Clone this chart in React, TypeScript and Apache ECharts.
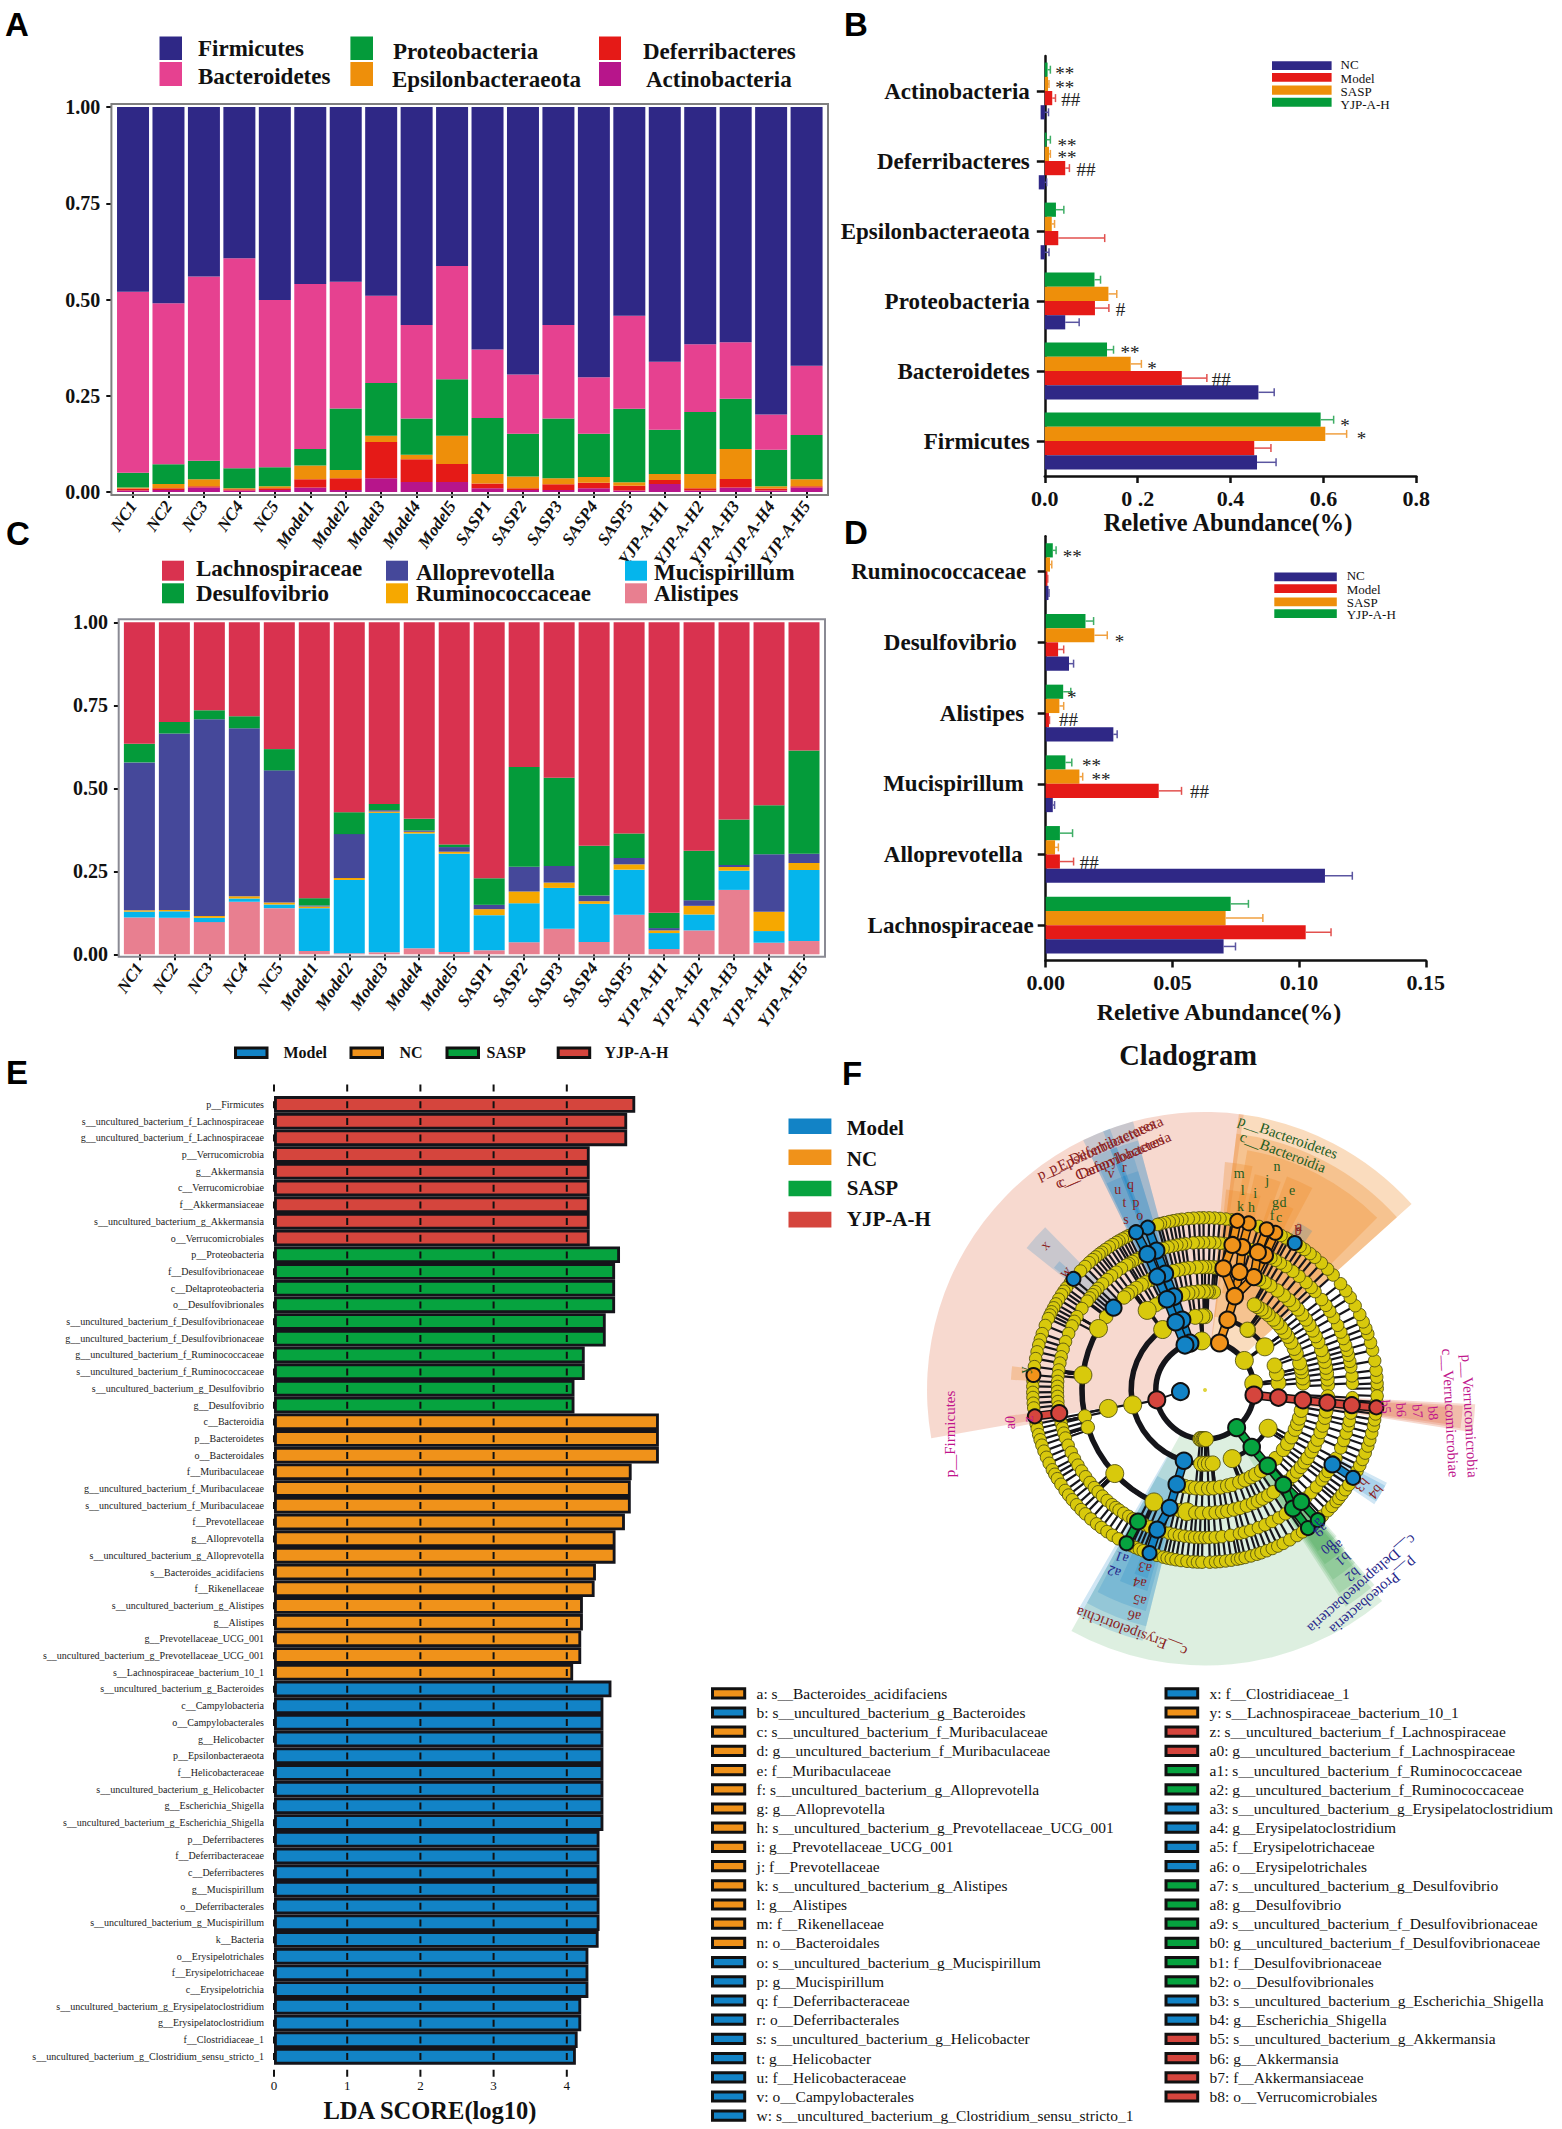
import React, { useEffect, useRef } from "react";
import * as echarts from "echarts";

const SERIF = "'Liberation Serif','Times New Roman',serif";
const SANS = "'Liberation Sans',Arial,sans-serif";
const NAVY = "#2f2886", RED = "#e51a17", ORANGE = "#ee8f0a", GREEN = "#049b3a";
const L_BLUE = "#1283c6", L_ORANGE = "#f0921a", L_GREEN = "#06a33f", L_RED = "#d5453d";

// ---------- Panel A / C ----------
const samples = ["NC1","NC2","NC3","NC4","NC5","Model1","Model2","Model3","Model4","Model5","SASP1","SASP2","SASP3","SASP4","SASP5","YJP-A-H1","YJP-A-H2","YJP-A-H3","YJP-A-H4","YJP-A-H5"];
const aActino = [.004,.005,.012,.004,.005,.012,.005,.036,.026,.026,.010,.005,.005,.010,.004,.021,.004,.012,.004,.012];
const aDeferri = [.005,.005,.003,.003,.005,.021,.031,.094,.059,.047,.012,.005,.015,.014,.012,.010,.006,.022,.005,.003];
const aEpsilon = [.003,.011,.018,.003,.005,.036,.021,.016,.012,.073,.025,.030,.016,.015,.009,.016,.037,.078,.006,.018];
const aProteo = [.038,.051,.048,.052,.049,.043,.160,.137,.094,.147,.145,.111,.155,.112,.191,.115,.161,.130,.095,.115];
const aBacter = [.470,.418,.479,.545,.435,.428,.329,.227,.243,.294,.178,.154,.243,.147,.242,.176,.176,.147,.091,.180];
const aFirmi = [.480,.510,.440,.393,.501,.460,.454,.490,.566,.413,.630,.695,.566,.702,.542,.662,.616,.611,.799,.672];

const cAlistipes = [.111,.110,.097,.158,.139,.010,.003,.006,.018,.007,.012,.036,.077,.037,.119,.016,.072,.194,.035,.040];
const cMucis = [.0175,.0195,.013,.010,.011,.129,.221,.420,.346,.296,.106,.118,.123,.115,.136,.048,.048,.058,.035,.214];
const cRumino = [.004,.004,.0055,.007,.006,.005,.006,.004,.005,.006,.018,.035,.016,.008,.016,.008,.026,.011,.058,.021];
const cAllo = [.4455,.5315,.5925,.506,.398,.003,.132,.004,.004,.014,.013,.075,.05,.017,.019,.007,.017,.006,.173,.028];
const cDesulf = [.056,.035,.027,.036,.064,.022,.066,.019,.035,.008,.08,.30,.266,.15,.074,.046,.149,.137,.148,.311];
const cLachno = [.366,.30,.265,.283,.382,.831,.572,.547,.592,.669,.771,.436,.468,.673,.636,.875,.688,.594,.551,.386];

// ---------- Panel B (Firmicutes ... Actinobacteria) ----------
const bCats = ["Firmicutes","Bacteroidetes","Proteobacteria","Epsilonbacteraeota","Deferribacteres","Actinobacteria"];
const bNC = [.457,.46,.044,-.009,-.013,-.009];
const bNCErr = [.498,.494,.074,.009,.004,.008];
const bModel = [.451,.295,.108,.029,.044,.016];
const bModelErr = [.487,.349,.138,.129,.053,.023];
const bSASP = [.604,.185,.137,.015,.009,.007];
const bSASPErr = [.650,.208,.155,.021,.012,.009];
const bYJP = [.594,.134,.107,.024,.004,.006];
const bYJPErr = [.622,.148,.12,.041,.012,.012];

// ---------- Panel D ----------
const dCats = ["Lachnospiraceae","Alloprevotella","Mucispirillum","Alistipes","Desulfovibrio","Ruminococcaceae"];
const dNC = [.0702,.1102,.0028,.0267,.0092,.0011];
const dNCErr = [.0749,.121,.0035,.0282,.011,.0013];
const dModel = [.1026,.0056,.0446,.0013,.0049,.0007];
const dModelErr = [.1126,.011,.0536,.0015,.0071,.0008];
const dSASP = [.071,.0037,.0133,.0054,.0192,.0017];
const dSASPErr = [.0857,.005,.0146,.0071,.0243,.0024];
const dYJP = [.073,.0056,.0078,.0069,.0157,.0028];
const dYJPErr = [.08,.0106,.0103,.0099,.0189,.0041];

// ---------- Panel E ----------
const yjpTaxa = ["p__Firmicutes","s__uncultured_bacterium_f_Lachnospiraceae","g__uncultured_bacterium_f_Lachnospiraceae","p__Verrucomicrobia","g__Akkermansia","c__Verrucomicrobiae","f__Akkermansiaceae","s__uncultured_bacterium_g_Akkermansia","o__Verrucomicrobiales"];
const yjpScores = [4.935,4.825,4.825,4.313,4.313,4.313,4.313,4.313,4.313];
const saspTaxa = ["p__Proteobacteria","f__Desulfovibrionaceae","c__Deltaproteobacteria","o__Desulfovibrionales","s__uncultured_bacterium_f_Desulfovibrionaceae","g__uncultured_bacterium_f_Desulfovibrionaceae","g__uncultured_bacterium_f_Ruminococcaceae","s__uncultured_bacterium_f_Ruminococcaceae","s__uncultured_bacterium_g_Desulfovibrio","g__Desulfovibrio"];
const saspScores = [4.727,4.66,4.66,4.66,4.532,4.532,4.245,4.245,4.105,4.105];
const ncTaxa = ["c__Bacteroidia","p__Bacteroidetes","o__Bacteroidales","f__Muribaculaceae","g__uncultured_bacterium_f_Muribaculaceae","s__uncultured_bacterium_f_Muribaculaceae","f__Prevotellaceae","g__Alloprevotella","s__uncultured_bacterium_g_Alloprevotella","s__Bacteroides_acidifaciens","f__Rikenellaceae","s__uncultured_bacterium_g_Alistipes","g__Alistipes","g__Prevotellaceae_UCG_001","s__uncultured_bacterium_g_Prevotellaceae_UCG_001","s__Lachnospiraceae_bacterium_10_1"];
const ncScores = [5.258,5.258,5.258,4.886,4.874,4.874,4.794,4.666,4.666,4.398,4.38,4.22,4.22,4.197,4.197,4.087];
const modelTaxa = ["s__uncultured_bacterium_g_Bacteroides","c__Campylobacteria","o__Campylobacterales","g__Helicobacter","p__Epsilonbacteraeota","f__Helicobacteraceae","s__uncultured_bacterium_g_Helicobacter","g__Escherichia_Shigella","s__uncultured_bacterium_g_Escherichia_Shigella","p__Deferribacteres","f__Deferribacteraceae","c__Deferribacteres","g__Mucispirillum","o__Deferribacterales","s__uncultured_bacterium_g_Mucispirillum","k__Bacteria","o__Erysipelotrichales","f__Erysipelotrichaceae","c__Erysipelotrichia","s__uncultured_bacterium_g_Erysipelatoclostridium","g__Erysipelatoclostridium","f__Clostridiaceae_1","s__uncultured_bacterium_g_Clostridium_sensu_stricto_1"];
const modelScores = [4.61,4.5,4.5,4.5,4.5,4.5,4.5,4.5,4.5,4.447,4.447,4.447,4.447,4.447,4.447,4.435,4.295,4.295,4.295,4.197,4.197,4.148,4.124];
const ldaTicks = [0,1,2,3,4];

// ---------- Panel F: angles (degrees, counter-clockwise from east) of the nodes on each ring ----------
const ringS = [.5,2.2,4.3,6.6,9.8,13.4,16,19,21,23.3,26,29.3,32.5,35.2,38.1,41.9,44.6,47.5,50.4,52.4,54.7,56.5,60.8,62,63.8,71.8,81,83,85,86.8,88.6,90.5,92,93.8,95.6,97.7,99.2,100.6,102,103.6,105,106,116.3,117.5,118.7,120,121,122.4,123.8,125.4,126.9,128,129.4,130.8,132.3,134.2,136.3,141.5,143.6,145,146.4,148.2,150,151.5,153,154.2,155.5,158,160.9,163,164.9,167.2,169.5,172.2,177,178.8,180.8,182.5,184.4,186,191.4,193,195,196.8,198.7,200.8,203,205.2,207.6,209.3,211,213.2,215.7,217.6,219.6,221.8,224,226,228.5,231,233,235.3,237.5,239.8,244.8,246.2,247.6,249,253.8,256,257.3,258.7,260.3,262,264,266,267.5,269,271.6,273.5,275,276.9,278.8,280.8,282,283.5,285.5,287.5,289,291,293,295,297,299.5,302.3,304.5,313,315.5,317.5,319.6,321,322.7,324.6,326.6,332,334,336.2,338.5,341,343.1,345.5,348,350,352,356,358];
const ringG = [2.6,5.5,9,11.2,13.6,15.6,17.7,20.4,23.1,26,29.4,32.3,35,37.8,41.8,44,46.8,50.4,53.5,56.8,59.3,61.5,63.5,72,82,84,86.2,88.2,90.6,92.6,94.6,97.6,99.2,101,102.8,104.5,106.5,116.4,118,119.5,121,122,124.5,127,129.3,131.6,134,136.5,138.2,139.8,141.4,143,146.5,150.2,152.3,154.3,157.5,160.9,164,167,169.5,172.2,174.5,176.7,178.6,180.6,182.5,184.5,186.6,191,193,195,197,199,202,205,207.8,210.6,213.3,216,218.8,221.4,223.6,226,228.5,231,232.8,234.4,236.6,238.9,240.8,245,246,248,253.5,256,258,260,262,264.3,266,268,270,271.6,274,276.6,280,283.5,285.5,288,291.2,294,297,300,303,313,315.9,319,322.4,324.5,326.5,332.5,336.9,340,343,346,348,351,357];
const ringF = [2.3,5,7.8,10.5,13.3,16,19,23,26,29,32,35,37.9,41,44,47,50.2,54,58,61,64,84,86,88,90,91.5,94,97.5,100,102.5,105,116.4,119,121,124,126.9,129,131.2,143.5,150,173,192.4,197.6,222.8,245.5,258,261.5,265.5,268.5,272,275,278,280.5,283.6,286.5,289.9,293,295.5,298,301,303.9,312,315.7,318.5,321.3,324,326.5,330,333,336.2,340,343.2,347,350,357];
const ringO = [4,7,10.7,13,16,21.8,25,29.1,33,36,39.6,43,46,50,52.5,55.2,58,60,85,88,89,91,94,97.5,100,103,116.6,120,126,190.8,258,261.6,264.5,268,272,275,279,283.2,286,290.6,294,297.9,301,305,316,322.7,327,331.5,336.4,340,343.4,348];
const ringC = [5.6,13,19.4,35.8,54.3,54.9,90,92,97.6,125,191.6,267,270,273,276,291.6,328.8];
const ringP = [7.7,36.9,93.8,264.5,266,268,269.5,271];
const bigNodes = [[2,7.7],[2,36.9],[2,93.8],[3,35.8],[3,125],[3,191.6],[3,291.6],[3,328.8],[4,126],[4,190.8],[5,150],[5,173],[5,222.8],[5,245.5],[5,261.5]];
const modelNodes = [[1,183.8],[2,107.8],[2,114],[3,108],[3,113.4],[3,253.4],[4,108.4],[4,112.7],[4,253.3],[5,108.9],[5,112.9],[5,138],[5,253.3],[6,109.2],[6,113],[6,251.1],[6,329.7],[7,58.6],[7,109.4],[7,113.6],[7,139.8],[7,251.2],[7,329.3]];
const ncNodes = [[2,72.8],[3,72.2],[4,72.4],[5,66.6],[5,73.7],[5,81.4],[6,66],[6,69],[6,75.4],[6,79.3],[7,65.9],[7,69],[7,75.3],[7,79.2],[7,175]];
const saspNodes = [[2,310],[3,309.3],[4,309.6],[5,309.6],[6,243],[6,306.6],[6,310.7],[7,242.9],[7,306.7],[7,310.9]];
const yjpNodes = [[2,191.5],[2,354.1],[3,354.1],[4,354.1],[5,354.1],[6,189],[6,354.1],[7,188.8],[7,354.2]];
// coloured links: level, angle, level, angle, clade colour index
const cladeLinks = [
  [2,107.8,3,108,0],[3,108,4,108.4,0],[4,108.4,5,108.9,0],[5,108.9,6,109.2,0],[6,109.2,7,109.4,0],
  [2,114,3,113.4,0],[3,113.4,4,112.7,0],[4,112.7,5,112.9,0],[5,112.9,6,113,0],[6,113,7,113.6,0],
  [3,253.4,4,253.3,0],[4,253.3,5,253.3,0],[5,253.3,6,251.1,0],[6,251.1,7,251.2,0],[6,329.7,7,329.3,0],
  [2,72.8,3,72.2,1],[3,72.2,4,72.4,1],[4,72.4,5,73.7,1],[4,72.4,5,66.6,1],[4,72.4,5,81.4,1],[5,66.6,6,66,1],[5,66.6,6,69,1],[5,73.7,6,75.4,1],[5,81.4,6,79.3,1],[6,66,7,65.9,1],[6,69,7,69,1],[6,75.4,7,75.3,1],[6,79.3,7,79.2,1],
  [2,310,3,309.3,2],[3,309.3,4,309.6,2],[4,309.6,5,309.6,2],[5,309.6,6,310.7,2],[5,309.6,6,306.6,2],[6,310.7,7,310.9,2],[6,306.6,7,306.7,2],[6,243,7,242.9,2],
  [2,354.1,3,354.1,3],[3,354.1,4,354.1,3],[4,354.1,5,354.1,3],[5,354.1,6,354.1,3],[6,354.1,7,354.2,3],[6,189,7,188.8,3],
];
// thick arcs: level, from angle, to angle
const thickArcs = [[2,0,180],[2,180,360],[3,125,253],[5,150,245]];
// shaded clades: from angle, to angle, inner level, outer level, clade colour index
const cladeSectors = [
  [82,190,2,11.3,3],[351,357,2,11,3],[351.5,356.5,3,10.5,3],[352,356,4,9.9,3],[187.5,191,6,8.1,3],
  [42,83,2,11.3,1],[42,83,3,10.5,1],[45,80,4,9.9,1],[78,85,5,9.3,1],[70,77,5,9,1],[62,69,5,9.3,1],[74,84,6,8.2,1],[64,71,6,8.2,1],[173,177,7,7.9,1],
  [241,310,2,11.2,2],[303,311,3,10.5,2],[303.5,310.5,4,9.9,2],[304,311,5,9.3,2],[304.5,311.5,6,8.6,2],[305,312,7,8,2],
  [105,111.5,2,11.3,0],[110,116,2,11.3,0],[105,111.5,3,10.5,0],[110,116,3,10.5,0],[107,111,4,9.9,0],[110.5,115.5,4,9.9,0],[107,111,5,9.3,0],[110.5,115.5,5,9.3,0],[134.5,141.5,5,9.27,0],[138.5,141,7,7.9,0],
  [240,256,3,10.5,0],[241,256,4,9.9,0],[242,255,5,9.3,0],[246,254,6,8.5,0],[249,253,7,8,0],[326,333,6,8.3,0],[327,332,7,8.3,0],[56,61,7,7.8,0],
];

const keyLeft = [
  ["a: s__Bacteroides_acidifaciens",1],["b: s__uncultured_bacterium_g_Bacteroides",0],["c: s__uncultured_bacterium_f_Muribaculaceae",1],["d: g__uncultured_bacterium_f_Muribaculaceae",1],["e: f__Muribaculaceae",1],["f: s__uncultured_bacterium_g_Alloprevotella",1],["g: g__Alloprevotella",1],["h: s__uncultured_bacterium_g_Prevotellaceae_UCG_001",1],["i: g__Prevotellaceae_UCG_001",1],["j: f__Prevotellaceae",1],["k: s__uncultured_bacterium_g_Alistipes",1],["l: g__Alistipes",1],["m: f__Rikenellaceae",1],["n: o__Bacteroidales",1],["o: s__uncultured_bacterium_g_Mucispirillum",0],["p: g__Mucispirillum",0],["q: f__Deferribacteraceae",0],["r: o__Deferribacterales",0],["s: s__uncultured_bacterium_g_Helicobacter",0],["t: g__Helicobacter",0],["u: f__Helicobacteraceae",0],["v: o__Campylobacterales",0],["w: s__uncultured_bacterium_g_Clostridium_sensu_stricto_1",0],
];
const keyRight = [
  ["x: f__Clostridiaceae_1",0],["y: s__Lachnospiraceae_bacterium_10_1",1],["z: s__uncultured_bacterium_f_Lachnospiraceae",3],["a0: g__uncultured_bacterium_f_Lachnospiraceae",3],["a1: s__uncultured_bacterium_f_Ruminococcaceae",2],["a2: g__uncultured_bacterium_f_Ruminococcaceae",2],["a3: s__uncultured_bacterium_g_Erysipelatoclostridium",0],["a4: g__Erysipelatoclostridium",0],["a5: f__Erysipelotrichaceae",0],["a6: o__Erysipelotrichales",0],["a7: s__uncultured_bacterium_g_Desulfovibrio",2],["a8: g__Desulfovibrio",2],["a9: s__uncultured_bacterium_f_Desulfovibrionaceae",2],["b0: g__uncultured_bacterium_f_Desulfovibrionaceae",2],["b1: f__Desulfovibrionaceae",2],["b2: o__Desulfovibrionales",2],["b3: s__uncultured_bacterium_g_Escherichia_Shigella",0],["b4: g__Escherichia_Shigella",0],["b5: s__uncultured_bacterium_g_Akkermansia",3],["b6: g__Akkermansia",3],["b7: f__Akkermansiaceae",3],["b8: o__Verrucomicrobiales",3],
];

const cladeColors = [L_BLUE, L_ORANGE, L_GREEN, L_RED];
const sectorFills = ["rgba(18,131,198,.2)","rgba(240,140,40,.3)","rgba(30,150,50,.15)","rgba(223,103,63,.25)"];
const R_PER_LEVEL = 24.6;

function txt(text: string, x: number, y: number, size: number, o: any = {}) {
  const align = o.align || "left";
  return {
    type: "text", x, y, rotation: ((o.rot || 0) * Math.PI) / 180, z: 60, silent: true,
    style: { text, fontFamily: o.family || SERIF, fontSize: size, fontWeight: o.weight || "normal", fill: o.color || "#111",
      textAlign: align, align, textVerticalAlign: "middle", verticalAlign: "middle" },
  };
}
function box(x0: number, y0: number, x1: number, y1: number, fill: string, stroke?: string, lw = 0) {
  return { type: "rect", z: 59, silent: true, shape: { x: x0, y: y0, width: x1 - x0, height: y1 - y0 },
    style: { fill, stroke: stroke || "none", lineWidth: lw } };
}

function angDiff(a: number, b: number) { const d = Math.abs(a - b) % 360; return d > 180 ? 360 - d : d; }

function buildEdges() {
  const rings: number[][] = [[], [], [], [], [], [], [], []];
  [ringP, ringC, ringO, ringF, ringG, ringS].forEach((r, i) => r.forEach((a) => rings[i + 2].push(a)));
  [...modelNodes, ...ncNodes, ...saspNodes, ...yjpNodes].forEach(([l, a]) => rings[l].push(a));
  const rows: number[][] = [];
  for (let l = 3; l <= 7; l++) {
    rings[l].forEach((a) => {
      let p = rings[l - 1][0];
      rings[l - 1].forEach((q) => { if (angDiff(q, a) < angDiff(p, a)) p = q; });
      const span = angDiff(p, a);
      if (span < 3) rows.push([1, l - 1, l, a, 2.2]);
      else { rows.push([1, l - 1, l, p, 2.2]); rows.push([0, l, p, a, span > 10 ? 4.5 : 2.2]); }
    });
  }
  thickArcs.forEach(([l, a, b]) => rows.push([0, l, a, b, 5.5]));
  rows.push([2, 1, 183.8, 2, 191.5]);
  return rows;
}

function stack(name: string, data: number[], color: string, xi: number, yi: number, width: number) {
  return { type: "bar", name, data, stack: "s" + xi, xAxisIndex: xi, yAxisIndex: yi, barWidth: width, itemStyle: { color }, silent: true };
}
function hbar(name: string, data: number[], color: string, idx: number) {
  return { type: "bar", name, data, xAxisIndex: idx, yAxisIndex: idx, barWidth: 14.2, barGap: 0, clip: false, itemStyle: { color }, silent: true };
}
function errBars(idx: number, groups: number[][][]) {
  const colors = ["#5a55a0", "#e2514e", "#f0a040", "#3fae66"];
  const data: number[][] = [];
  groups.forEach(([vals, errs], s) => vals.forEach((v, c) => data.push([v, c, errs[c], s])));
  return {
    type: "custom", xAxisIndex: idx, yAxisIndex: idx, data, z: 3, silent: true, clip: false, encode: { x: 0, y: 1 },
    renderItem: (_: any, api: any) => {
      const s = api.value(3);
      const p0 = api.coord([Math.max(api.value(0), 0), api.value(1)]);
      const p1 = api.coord([api.value(2), api.value(1)]);
      const y = p0[1] + (1.5 - s) * 14.2;
      const style = { stroke: colors[s], lineWidth: 1.5, fill: "none" };
      return { type: "group", children: [
        { type: "line", shape: { x1: p0[0], y1: y, x2: p1[0], y2: y }, style },
        { type: "line", shape: { x1: p1[0], y1: y - 4, x2: p1[0], y2: y + 4 }, style },
      ] };
    },
  };
}

function buildOption() {
  const g: any[] = [];
  // panel letters
  g.push(txt("A", 5, 24, 33, { family: SANS, weight: "bold", color: "#000" }));
  g.push(txt("B", 844, 24, 33, { family: SANS, weight: "bold", color: "#000" }));
  g.push(txt("C", 6, 533, 33, { family: SANS, weight: "bold", color: "#000" }));
  g.push(txt("D", 844, 532, 33, { family: SANS, weight: "bold", color: "#000" }));
  g.push(txt("E", 6, 1072, 33, { family: SANS, weight: "bold", color: "#000" }));
  g.push(txt("F", 842, 1073, 33, { family: SANS, weight: "bold", color: "#000" }));
  // frames
  g.push({ type: "rect", z: 1, silent: true, shape: { x: 111.4, y: 104, width: 716.6, height: 391 }, style: { fill: "none", stroke: "#7f7f7f", lineWidth: 2 } });
  g.push({ type: "rect", z: 1, silent: true, shape: { x: 118.7, y: 619.3, width: 706.3, height: 337.4 }, style: { fill: "none", stroke: "#8a8a94", lineWidth: 2 } });
  // legend A
  const lgA: [string, number, number, number, number, number, string][] = [
    ["Firmicutes", 159.5, 182, 36.5, 60, 198, NAVY], ["Bacteroidetes", 159.5, 182, 62, 86, 198, "#e64190"],
    ["Proteobacteria", 350.4, 373, 36.5, 60, 393, GREEN], ["Epsilonbacteraeota", 350.4, 373, 62, 86, 392, ORANGE],
    ["Deferribacteres", 599, 621, 36.5, 60, 643, RED], ["Actinobacteria", 599, 621, 62, 86, 646, "#b7158b"],
  ];
  const lgAY = [48, 76, 51, 79.5, 51, 79.5];
  lgA.forEach(([t, x0, x1, y0, y1, tx, c], i) => { g.push(box(x0, y0, x1, y1, c)); g.push(txt(t, tx, lgAY[i], 23, { weight: "bold" })); });
  // legend C
  const lgC: [string, number, number, number, number, number, number, string][] = [
    ["Lachnospiraceae", 162, 184, 560.7, 580.7, 196, 568.3, "#d9324f"], ["Desulfovibrio", 162, 184, 583.3, 603.3, 196, 593.3, GREEN],
    ["Alloprevotella", 386, 408, 560.7, 580.7, 416, 572.3, "#45489a"], ["Ruminococcaceae", 386, 408, 583.3, 603.3, 416, 593.3, "#f6a800"],
    ["Mucispirillum", 625, 647, 560.7, 580.7, 654, 572.3, "#05b5ec"], ["Alistipes", 625, 647, 583.3, 603.3, 654, 593.3, "#e87f90"],
  ];
  lgC.forEach(([t, x0, x1, y0, y1, tx, ty, c]) => { g.push(box(x0, y0, x1, y1, c)); g.push(txt(t, tx, ty, 23, { weight: "bold" })); });
  // legend B / D
  const grp = ["NC", "Model", "SASP", "YJP-A-H"], grpC = [NAVY, RED, ORANGE, GREEN];
  [[61.2, 70, 64], [73, 81.8, 78.4], [85.5, 94.7, 91.3], [97.7, 106.8, 104]].forEach(([a, b, ty], i) => {
    g.push(box(1272, a, 1331.6, b, grpC[i])); g.push(txt(grp[i], 1340.6, ty, 13));
  });
  [[572.4, 581.2, 575], [584.2, 593, 589], [597.4, 606.2, 602], [609.2, 618, 614.7]].forEach(([a, b, ty], i) => {
    g.push(box(1274.3, a, 1336.8, b, grpC[i])); g.push(txt(grp[i], 1346.7, ty, 13));
  });
  // significance marks B and D
  const marks: [string, number, number][] = [
    ["**",1064.7,70],["**",1064.7,84.2],["##",1070.8,99.4],["**",1067,142.3],["**",1067,154.5],["##",1086,169],["#",1120.5,309.3],
    ["**",1130,349.6],["*",1152,365],["##",1221.3,379.3],["*",1345,422],["*",1361.4,435.4],
    ["**",1072.2,553],["*",1119.6,638],["*",1071.8,694.4],["##",1068.5,719.8],["**",1091.6,762],["**",1101,776.3],["##",1199.5,791.8],["##",1089.3,862.8],
  ];
  marks.forEach(([t, x, y]) => g.push(txt(t, x, t[0] === "*" ? y + 3 : y, 19, { align: "center", color: "#222" })));
  g.push(txt("Reletive Abundance(%)", 1228, 522, 24.4, { weight: "bold", align: "center" }));
  g.push(txt("Reletive Abundance(%)", 1219, 1012, 24, { weight: "bold", align: "center" }));
  g.push(txt("Cladogram", 1188, 1055, 28.5, { weight: "bold", align: "center" }));
  g.push(txt("LDA SCORE(log10)", 430, 2110.5, 24.5, { weight: "bold", align: "center" }));
  // legend E
  [["Model", 234, 283.5, 0], ["NC", 349.5, 399.5, 1], ["SASP", 445.5, 486.6, 2], ["YJP-A-H", 556.7, 604.5, 3]].forEach(([t, x, tx, c]: any) => {
    g.push(box(x + 1.5, 1048, x + 33, 1057.5, cladeColors[c], "#111", 3));
    g.push(txt(t, tx, 1052, 16, { weight: "bold" }));
  });
  // legend F
  [["Model", 1118.4, 1127.7, 0], ["NC", 1149.5, 1159.3, 1], ["SASP", 1180.7, 1188, 2], ["YJP-A-H", 1211.8, 1219.2, 3]].forEach(([t, y, ty, c]: any) => {
    g.push(box(788.5, y, 831.4, y + 15.6, cladeColors[c]));
    g.push(txt(t, 846.8, ty, 21, { weight: "bold" }));
  });
  // key
  keyLeft.forEach(([t, c]: any, i) => {
    const y = 1693.3 + i * 19.2;
    g.push(box(712.5, y - 4.6, 744.7, y + 4.6, cladeColors[c], "#111", 3));
    g.push(txt(t, 756.6, y, 15.45));
  });
  keyRight.forEach(([t, c]: any, i) => {
    const y = 1693.3 + i * 19.2;
    g.push(box(1166, y - 4.6, 1197.7, y + 4.6, cladeColors[c], "#111", 3));
    g.push(txt(t, 1209.6, y, 15.45));
  });
  // clade names
  const DG = "#1e5c1e", DR = "#8a1c1c", MG = "#c0148c", NV = "#26268a";
  const clade: [string, number, number, number, string][] = [
    ["p__Bacteroidetes",1288,1137,-19.5,DG],["c__Bacteroidia",1282.8,1152,-21,DG],
    ["p__Deferribacteres",1102,1146,24,DR],["p__Epsilonbacteraeota",1100,1148,24,DR],["c__Deferribacteres",1111,1161,23,DR],["c__Campylobacteria",1113,1160,23,DR],
    ["p__Firmicutes",950,1434,90,MG],["p__Verrucomicrobia",1469.7,1416,-87,MG],["c__Verrucomicrobiae",1450.4,1413,-87,MG],
    ["c__Erysipelotrichia",1131.5,1632,159.6,DR],["p__Proteobacteria",1373.5,1596,220.4,NV],["c__Deltaproteobacteria",1362,1584,221.7,NV],
  ];
  clade.forEach(([t, x, y, r, c]) => g.push(txt(t, x, y, 15, { rot: r, color: c, align: "center" })));
  const short: [string, number, number, number, string][] = [
    ["m",1239.3,1173.3,0,DG],["n",1277,1166.7,0,DG],["j",1267.3,1180.7,0,DG],["e",1292,1190.4,0,DG],["l",1242.6,1190.4,0,DG],["i",1255.3,1193.9,0,DG],["g",1275.5,1202.8,0,DG],["d",1283,1202.8,0,DG],["k",1240.4,1206,0,DG],["h",1251.4,1207.5,0,DG],["f",1272,1215.3,0,DG],["c",1279,1217,0,DG],["a",1299,1226,0,DR],["b",1298,1230,0,DR],
    ["v",1111,1173.7,0,DR],["r",1124.4,1167.8,0,DR],["u",1117.8,1189.2,0,DR],["q",1130.5,1184.6,0,DR],["t",1124.4,1202.8,0,DR],["p",1136,1202,0,DR],["s",1126,1219,0,DR],["o",1139.8,1215.3,0,DR],["x",1045,1245,45,DR],["w",1065,1271.7,45,DR],
    ["a0",1010.6,1422.7,90,MG],["z",1028,1418.8,90,MG],["y",1024.4,1370,90,DG],
    ["a1",1121.7,1557.7,160,NV],["a2",1114,1571.7,160,NV],["a3",1145,1567.7,165,DR],["a4",1139.8,1583,165,DR],["a5",1139.8,1600.5,165,DR],["a6",1134.3,1616,165,DR],
    ["b5",1385.7,1406.7,-85,MG],["b6",1401,1409.8,-85,MG],["b7",1417.4,1411,-85,MG],["b8",1432.9,1413,-85,MG],
    ["b3",1362,1485,-130,DR],["b4",1375.7,1491.7,-130,DR],
    ["a7",1316,1525,220,NV],["a9",1321,1530,220,NV],["a8",1337,1547,220,NV],["b0",1328,1547,220,NV],["b1",1343,1559,220,NV],["b2",1352.5,1574.5,220,NV],
  ];
  short.forEach(([t, x, y, r, c]) => g.push(txt(t, x, y, 14, { rot: r, color: c, align: "center" })));

  const ticksBlack = { show: true, length: 6, alignWithLabel: true, lineStyle: { color: "#111", width: 2 } };
  const catLabelSmall = { interval: 0, rotate: 55, fontFamily: SERIF, fontStyle: "italic", fontWeight: "bold", fontSize: 17, color: "#111", margin: 8 };
  const yLab = { fontFamily: SERIF, fontWeight: "bold", fontSize: 20, color: "#111", margin: 11, customValues: [0, .25, .5, .75, 1], formatter: (v: number) => v.toFixed(2) };
  const blackLine = { show: true, onZero: false, lineStyle: { color: "#111", width: 2.5 } };
  const axisNum = { fontFamily: SERIF, fontWeight: "bold", fontSize: 22, color: "#111", margin: 11 };
  const hCat = { fontFamily: SERIF, fontWeight: "bold", fontSize: 23, color: "#111", interval: 0, margin: 15 };
  const dPads = [0, 11, 10, 9.5, 17, 7.5];
  const dRich: any = {};
  dPads.forEach((p, i) => { dRich["p" + i] = { fontFamily: SERIF, fontWeight: "bold", fontSize: 23, color: "#111", padding: [0, p, 0, 0] }; });

  const grid = [
    { left: 115.3, top: 104, width: 709, height: 391 },
    { left: 1044.8, top: 56, width: 371.5, height: 420 },
    { left: 121.9, top: 619.3, width: 699.6, height: 337.4 },
    { left: 1045.7, top: 536.3, width: 380.1, height: 424.2 },
    { left: 274, top: 1096.1, width: 402.6, height: 968.6 },
  ];
  const xAxis: any[] = [
    { type: "category", gridIndex: 0, data: samples, axisLine: { show: false }, axisTick: ticksBlack, axisLabel: catLabelSmall },
    { type: "value", gridIndex: 1, min: 0, max: .8, interval: .2, splitLine: { show: false }, axisLine: blackLine, axisTick: { show: true, length: 7, lineStyle: { color: "#111", width: 2.5 } },
      axisLabel: { ...axisNum, formatter: (v: number) => (Math.abs(v - .2) < 1e-6 ? "0 .2" : v.toFixed(1)) } },
    { type: "category", gridIndex: 2, data: samples, axisLine: { show: false }, axisTick: ticksBlack, axisLabel: catLabelSmall },
    { type: "value", gridIndex: 3, min: 0, max: .15, interval: .05, splitLine: { show: false }, axisLine: blackLine, axisTick: { show: true, length: 7, lineStyle: { color: "#111", width: 2.5 } },
      axisLabel: { ...axisNum, formatter: (v: number) => v.toFixed(2) } },
    { type: "value", gridIndex: 4, min: 0, max: 5.5, splitLine: { show: false }, axisLine: { show: false }, axisTick: { show: false },
      axisLabel: { fontFamily: SERIF, fontSize: 13, color: "#111", margin: 14, customValues: ldaTicks } },
  ];
  const yAxis: any[] = [
    { type: "value", gridIndex: 0, min: -.0078, max: 1.0078, offset: 4, splitLine: { show: false }, axisLine: { show: false },
      axisTick: { show: true, length: 5, customValues: [0, .25, .5, .75, 1], lineStyle: { color: "#111", width: 2 } }, axisLabel: yLab },
    { type: "category", gridIndex: 1, data: bCats, axisLine: blackLine, axisTick: { show: true, length: 8, alignWithLabel: true, lineStyle: { color: "#111", width: 2.5 } }, axisLabel: hCat },
    { type: "value", gridIndex: 2, min: -.0072, max: 1.009, offset: 3, splitLine: { show: false }, axisLine: { show: false },
      axisTick: { show: true, length: 5, customValues: [0, .25, .5, .75, 1], lineStyle: { color: "#111", width: 2 } }, axisLabel: yLab },
    { type: "category", gridIndex: 3, data: dCats, axisLine: blackLine, axisTick: { show: true, length: 8, alignWithLabel: true, lineStyle: { color: "#111", width: 2.5 } },
      axisLabel: { ...hCat, margin: 12, rich: dRich, formatter: (v: string) => `{p${dCats.indexOf(v)}|${v}}` } },
    { type: "category", gridIndex: 4, inverse: true,
      data: [...yjpTaxa, ...saspTaxa, ...ncTaxa, ...modelTaxa], axisLine: { show: false }, axisTick: { show: false },
      axisLabel: { interval: 0, fontFamily: SERIF, fontSize: 10, color: "#222", margin: 10 } },
  ];

  const ldaData = [
    ...yjpScores.map((v) => ({ value: v, itemStyle: { color: L_RED } })),
    ...saspScores.map((v) => ({ value: v, itemStyle: { color: L_GREEN } })),
    ...ncScores.map((v) => ({ value: v, itemStyle: { color: L_ORANGE } })),
    ...modelScores.map((v) => ({ value: v, itemStyle: { color: L_BLUE } })),
  ];

  const edges = buildEdges();
  const sizeOf: Record<number, number> = { 1: 17, 2: 15, 3: 15, 4: 14, 5: 13.5, 6: 12.5, 7: 12.5 };
  const colSize: Record<number, number> = { 1: 17, 2: 17, 3: 16.5, 4: 16.5, 5: 16, 6: 16, 7: 14 };
  const isBig = (l: number, a: number) => bigNodes.some(([bl, ba]) => bl === l && ba === a);
  const yellowData: number[][] = [];
  [ringP, ringC, ringO, ringF, ringG, ringS].forEach((r, i) => r.forEach((a) => yellowData.push([i + 2, a, isBig(i + 2, a) ? 18 : sizeOf[i + 2]])));

  const colored = (name: string, nodes: number[][], c: string) => ({
    type: "scatter", name, coordinateSystem: "polar", polarIndex: 0, z: 6, silent: true,
    data: nodes.map(([l, a]) => [l, a, colSize[l]]), symbolSize: (v: number[]) => v[2],
    itemStyle: { color: c, borderColor: "#111", borderWidth: 2, opacity: 1 },
  });

  const series: any[] = [
    stack("Actinobacteria", aActino, "#b7158b", 0, 0, 32),
    stack("Deferribacteres", aDeferri, RED, 0, 0, 32),
    stack("Epsilonbacteraeota", aEpsilon, ORANGE, 0, 0, 32),
    stack("Proteobacteria", aProteo, GREEN, 0, 0, 32),
    stack("Bacteroidetes", aBacter, "#e64190", 0, 0, 32),
    stack("Firmicutes", aFirmi, NAVY, 0, 0, 32),

    stack("Alistipes", cAlistipes, "#e87f90", 2, 2, 31),
    stack("Mucispirillum", cMucis, "#05b5ec", 2, 2, 31),
    stack("Ruminococcaceae", cRumino, "#f6a800", 2, 2, 31),
    stack("Alloprevotella", cAllo, "#45489a", 2, 2, 31),
    stack("Desulfovibrio", cDesulf, GREEN, 2, 2, 31),
    stack("Lachnospiraceae", cLachno, "#d9324f", 2, 2, 31),

    hbar("YJP-A-H", bYJP, GREEN, 1), hbar("SASP", bSASP, ORANGE, 1), hbar("Model", bModel, RED, 1), hbar("NC", bNC, NAVY, 1),
    errBars(1, [[bNC, bNCErr], [bModel, bModelErr], [bSASP, bSASPErr], [bYJP, bYJPErr]]),
    hbar("YJP-A-H", dYJP, GREEN, 3), hbar("SASP", dSASP, ORANGE, 3), hbar("Model", dModel, RED, 3), hbar("NC", dNC, NAVY, 3),
    errBars(3, [[dNC, dNCErr], [dModel, dModelErr], [dSASP, dSASPErr], [dYJP, dYJPErr]]),

    { type: "bar", name: "LDA", xAxisIndex: 4, yAxisIndex: 4, data: ldaData, barWidth: 16.7, silent: true, z: 2,
      itemStyle: { borderColor: "#14141a", borderWidth: 2.85 } },
    { type: "custom", xAxisIndex: 4, yAxisIndex: 4, z: 10, silent: true, clip: false, data: ldaTicks.map((v) => [v, 0]), encode: { x: 0, y: 1 },
      renderItem: (params: any, api: any) => {
        const x = api.coord([api.value(0), 0])[0];
        return { type: "line", shape: { x1: x, y1: 1084.5, x2: x, y2: 2078 }, style: { stroke: "#111", lineWidth: 2, lineDash: [7, 9.7], fill: "none" } };
      } },

    // Cladogram
    { type: "custom", coordinateSystem: "polar", polarIndex: 0, z: 1, silent: true, clip: false, data: cladeSectors,
      renderItem: (params: any, api: any) => {
        const sys = params.coordSys, u = sys.r / 12;
        return { type: "sector", shape: { cx: sys.cx, cy: sys.cy, r0: api.value(2) * u, r: api.value(3) * u,
          startAngle: (-api.value(0) * Math.PI) / 180, endAngle: (-api.value(1) * Math.PI) / 180, clockwise: false },
          style: { fill: sectorFills[api.value(4)] } };
      } },
    { type: "custom", coordinateSystem: "polar", polarIndex: 0, z: 2, silent: true, clip: false, data: edges,
      renderItem: (params: any, api: any) => {
        const sys = params.coordSys, u = sys.r / 12, kind = api.value(0);
        if (kind === 0) {
          const a = api.value(2), b = api.value(3);
          const lo = Math.abs(a - b) > 180 ? Math.max(a, b) : Math.min(a, b);
          const hi = Math.abs(a - b) > 180 ? Math.min(a, b) + 360 : Math.max(a, b);
          return { type: "arc", shape: { cx: sys.cx, cy: sys.cy, r: api.value(1) * u, startAngle: (-lo * Math.PI) / 180, endAngle: (-hi * Math.PI) / 180, clockwise: false },
            style: { stroke: "#15151a", fill: "none", lineWidth: api.value(4) } };
        }
        if (kind === 1) {
          const p0 = api.coord([api.value(1), api.value(3)]), p1 = api.coord([api.value(2), api.value(3)]);
          return { type: "line", shape: { x1: p0[0], y1: p0[1], x2: p1[0], y2: p1[1] }, style: { stroke: "#15151a", lineWidth: api.value(4) } };
        }
        const p0 = api.coord([api.value(1), api.value(2)]), p1 = api.coord([api.value(3), api.value(4)]);
        return { type: "line", shape: { x1: p0[0], y1: p0[1], x2: p1[0], y2: p1[1] }, style: { stroke: "#15151a", lineWidth: 1.8 } };
      } },
    { type: "scatter", name: "nodes", coordinateSystem: "polar", polarIndex: 0, z: 4, silent: true, data: yellowData,
      symbolSize: (v: number[]) => v[2], itemStyle: { color: "#d8c90c", borderColor: "#55520f", borderWidth: 0.9, opacity: 1 } },
    { type: "custom", coordinateSystem: "polar", polarIndex: 0, z: 5, silent: true, clip: false, data: cladeLinks,
      renderItem: (_: any, api: any) => {
        const p0 = api.coord([api.value(0), api.value(1)]), p1 = api.coord([api.value(2), api.value(3)]);
        const shape = { x1: p0[0], y1: p0[1], x2: p1[0], y2: p1[1] };
        return { type: "group", children: [
          { type: "line", shape, style: { stroke: "#111", lineWidth: 9 } },
          { type: "line", shape, style: { stroke: cladeColors[api.value(4)], lineWidth: 6 } },
        ] };
      } },
    colored("Model", modelNodes, L_BLUE), colored("NC", ncNodes, L_ORANGE), colored("SASP", saspNodes, L_GREEN), colored("YJP-A-H", yjpNodes, L_RED),
    { type: "scatter", name: "root", coordinateSystem: "polar", polarIndex: 0, z: 6, silent: true, data: [[0, 0]], symbolSize: 4, itemStyle: { color: "#d8c90c" } },
  ];

  return {
    animation: false, backgroundColor: "#fff", textStyle: { fontFamily: SERIF },
    grid, xAxis, yAxis,
    polar: { center: [1205, 1390], radius: 12 * R_PER_LEVEL },
    angleAxis: { min: 0, max: 360, startAngle: 0, clockwise: false, show: false },
    radiusAxis: { min: 0, max: 12, show: false },
    graphic: { elements: g },
    series,
  };
}

export default function App() {
  const ref = useRef<HTMLDivElement>(null);
  useEffect(() => {
    document.body.style.margin = "0";
    const chart = echarts.init(ref.current!, undefined, { renderer: "svg" });
    chart.setOption(buildOption() as any);
    return () => chart.dispose();
  }, []);
  return <div ref={ref} style={{ width: 1562, height: 2129 }} />;
}
